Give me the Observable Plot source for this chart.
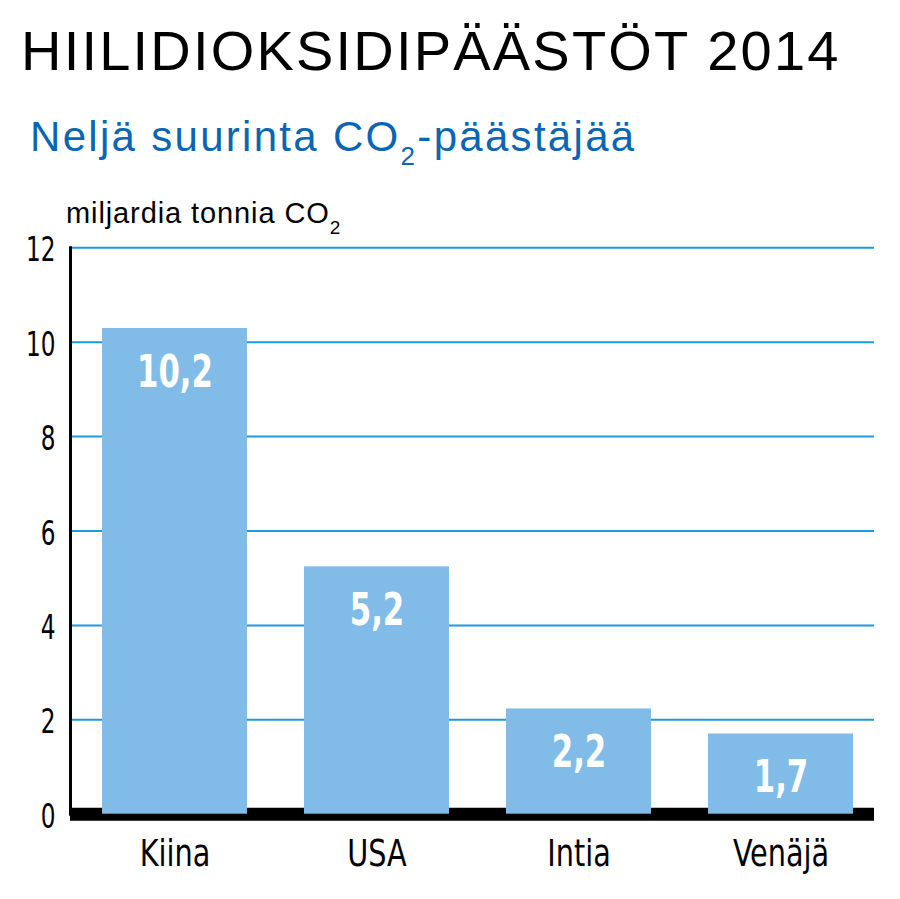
<!DOCTYPE html>
<html>
<head>
<meta charset="utf-8">
<script src="https://cdn.jsdelivr.net/npm/d3@7"></script>
<script src="https://cdn.jsdelivr.net/npm/@observablehq/plot@0.6"></script>
<style>
  html, body { margin: 0; padding: 0; background: #fff; }
  #wrap { position: relative; width: 900px; height: 899px; overflow: hidden; }
  .t { position: absolute; white-space: nowrap; line-height: 1; }
  #title { left: 21px; top: 22.6px; font-family: "Liberation Sans", Arial, sans-serif; font-size: 56px; letter-spacing: 2.2px; color: #000; }
  #subtitle { left: 30px; top: 116.4px; font-family: "Liberation Sans", Arial, sans-serif; font-size: 42px; letter-spacing: 2.3px; color: #0a66b2; }
  #unit { left: 66px; top: 198.5px; font-family: "Liberation Sans", Arial, sans-serif; font-size: 29px; letter-spacing: 0.9px; color: #000; }
  .sub { line-height: 0; }
  #chart { position: absolute; left: 0; top: 230px; }
</style>
</head>
<body>
<div id="wrap">
  <div class="t" id="title">HIILIDIOKSIDIPÄÄSTÖT 2014</div>
  <div class="t" id="subtitle">Neljä suurinta CO<span class="sub" style="font-size:26px;vertical-align:-14px;">2</span>-päästäjää</div>
  <div class="t" id="unit">miljardia tonnia CO<span class="sub" style="font-size:19px;vertical-align:-11px;">2</span></div>
  <div id="chart"></div>
</div>
<script>
const countries = ["Kiina", "USA", "Intia", "Venäjä"];
const emissions = [10.29, 5.24, 2.23, 1.70];
const valueLabels = ["10,2", "5,2", "2,2", "1,7"];
const yTicks = [0, 2, 4, 6, 8, 10, 12];
const gridTicks = [2, 4, 6, 8, 10, 12];

const data = countries.map((c, i) => ({country: c, value: emissions[i], label: valueLabels[i]}));

const narrow = "'DejaVu Sans Condensed', 'Liberation Sans Narrow', sans-serif";

const chart = Plot.plot({
  width: 900,
  height: 669,
  marginTop: 17.3,
  marginBottom: 85.3,
  marginLeft: 70,
  marginRight: 26,
  style: {fontFamily: narrow, background: "transparent", color: "#000"},
  x: {type: "band", domain: countries, range: [100, 855], paddingInner: 0.28, paddingOuter: 0, axis: null},
  y: {domain: [0, 12], axis: null},
  marks: [
    Plot.ruleY(gridTicks, {stroke: "#1d9bd7", strokeWidth: 2}),
    Plot.frame({anchor: "left", stroke: "#000", strokeWidth: 3}),
    Plot.ruleY([0], {stroke: "#000", strokeWidth: 13}),
    Plot.barY(data, {x: "country", y: "value", fill: "#80bce7"}),
    Plot.text(data, {x: "country", y: "value", text: "label", dy: 44, fill: "#fff", fontSize: 45, fontWeight: "bold", fontFamily: narrow}),
    Plot.axisY(yTicks, {tickSize: 0, tickPadding: 15, fontSize: 33, fontFamily: narrow, label: null, dy: 3}),
    Plot.axisX(countries, {tickSize: 0, tickPadding: 25, fontSize: 38, fontFamily: narrow, label: null})
  ]
});
document.getElementById("chart").appendChild(chart);

// condense glyphs to mimic the narrow typeface of the original
function squeeze(selector, ratio) {
  chart.querySelectorAll(selector).forEach(t => {
    const len = t.getComputedTextLength();
    t.setAttribute("textLength", len * ratio);
    t.setAttribute("lengthAdjust", "spacingAndGlyphs");
  });
}
squeeze('g[aria-label="text"] text', 0.76);
squeeze('g[aria-label="x-axis tick label"] text', 0.84);
squeeze('g[aria-label="y-axis tick label"] text', 0.78);
</script>
</body>
</html>
